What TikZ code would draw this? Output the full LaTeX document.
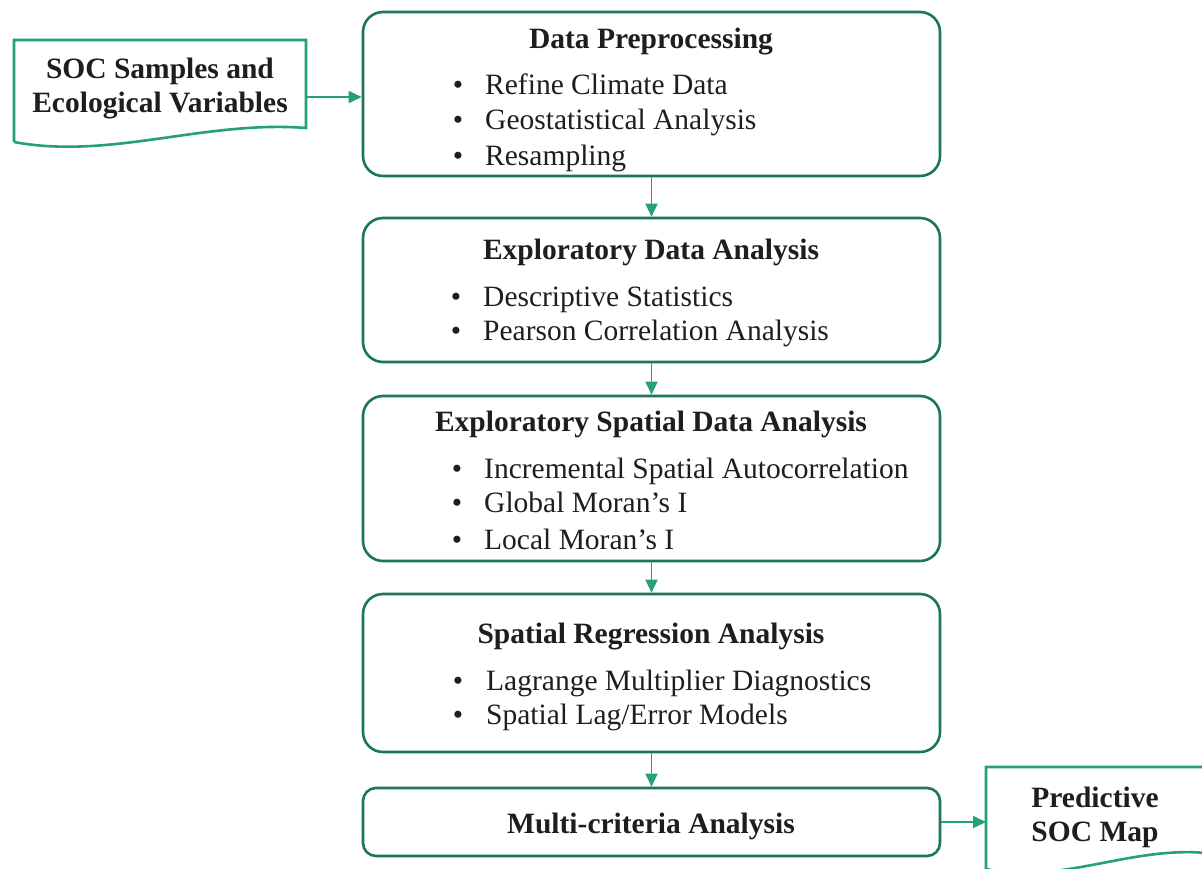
\documentclass[tikz,border=0pt]{standalone}
\usepackage{fontspec}
\setmainfont{Liberation Serif}
\usetikzlibrary{arrows.meta}
\definecolor{boxgreen}{RGB}{28,118,88}
\definecolor{arrgreen}{RGB}{38,160,118}
\definecolor{txt}{RGB}{30,30,30}
\tikzset{
  box/.style={draw=boxgreen, line width=2.6pt, rounded corners=20pt, minimum width=577pt, inner sep=0pt},
  smallbox/.style={box, rounded corners=13pt},
  arr/.style={draw=arrgreen, line width=1.8pt, -{Triangle[length=13pt,width=12pt]}},
  docshape/.style={draw=arrgreen, line width=2.6pt, fill=white},
  ttl/.style={font=\fontsize{29.5}{35}\selectfont\bfseries, text=txt, inner sep=0pt, anchor=mid, yshift=-6pt},
  itm/.style={font=\fontsize{29.5}{35}\selectfont, text=txt, inner sep=0pt, anchor=mid west, yshift=-6pt},
  bul/.style={font=\fontsize{29.5}{35}\selectfont, text=txt, inner sep=0pt, anchor=mid, yshift=-6pt},
  doctxt/.style={font=\fontsize{29.5}{34}\selectfont\bfseries, text=txt, inner sep=0pt, align=center, anchor=center}
}
\begin{document}
\begin{tikzpicture}[x=1pt,y=-1pt]
\useasboundingbox (0,0) rectangle (1202,869);
\fill[white] (0,0) rectangle (1202,869);
\begin{scope}
\clip (0,0) rectangle (1202,869);
% document shapes
\draw[docshape] (14,142) -- (14,40) -- (306,40) -- (306,128)
  .. controls (205,120) and (110,160) .. (14,142);
\draw[docshape] (986,869) -- (986,767) -- (1206,767) -- (1206,853)
  .. controls (1130,846) and (1060,885) .. (986,869);
\end{scope}
\node[doctxt] (soc) at (160,89) {SOC Samples and\\Ecological Variables};
\coordinate (socR) at (306,97);
\node[doctxt] (map) at (1095,817) {Predictive\\SOC Map};
\coordinate (mapL) at (986,822);

% main boxes
\node[box, minimum height=164pt] (b1) at (651.5,94) {};
\node[box, minimum height=144pt] (b2) at (651.5,290) {};
\node[box, minimum height=165pt] (b3) at (651.5,478.5) {};
\node[box, minimum height=158pt] (b4) at (651.5,673) {};
\node[smallbox, minimum height=68pt] (b5) at (651.5,822) {};

% box 1
\node[ttl] (t1) at (651,40) {Data Preprocessing};
\node[bul] (u11) at (458,86) {\textbullet};
\node[itm] (i11) at (485,86) {Refine Climate Data};
\node[bul] (u12) at (458,121) {\textbullet};
\node[itm] (i12) at (485,121) {Geostatistical Analysis};
\node[bul] (u13) at (458,157) {\textbullet};
\node[itm] (i13) at (485,157) {Resampling};

% box 2
\node[ttl] (t2) at (651,251) {Exploratory Data Analysis};
\node[bul] (u21) at (456,298) {\textbullet};
\node[itm] (i21) at (483,298) {Descriptive Statistics};
\node[bul] (u22) at (456,332) {\textbullet};
\node[itm] (i22) at (483,332) {Pearson Correlation Analysis};

% box 3
\node[ttl] (t3) at (651,423) {Exploratory Spatial Data Analysis};
\node[bul] (u31) at (457,470) {\textbullet};
\node[itm] (i31) at (484,470) {Incremental Spatial Autocorrelation};
\node[bul] (u32) at (457,504) {\textbullet};
\node[itm] (i32) at (484,504) {Global Moran’s I};
\node[bul] (u33) at (457,541) {\textbullet};
\node[itm] (i33) at (484,541) {Local Moran’s I};

% box 4
\node[ttl] (t4) at (651,635) {Spatial Regression Analysis};
\node[bul] (u41) at (458,682) {\textbullet};
\node[itm] (i41) at (486,682) {Lagrange Multiplier Diagnostics};
\node[bul] (u42) at (458,716) {\textbullet};
\node[itm] (i42) at (486,716) {Spatial Lag/Error Models};

% box 5
\node[ttl] (t5) at (651,825) {Multi-criteria Analysis};

% connectors
\draw[arr] (socR) -- (socR -| b1.west);
\draw[arr] (b1.south) -- (b2.north);
\draw[arr] (b2.south) -- (b3.north);
\draw[arr] (b3.south) -- (b4.north);
\draw[arr] (b4.south) -- (b5.north);
\draw[arr] (b5.east) -- (mapL);
\end{tikzpicture}
\end{document}
